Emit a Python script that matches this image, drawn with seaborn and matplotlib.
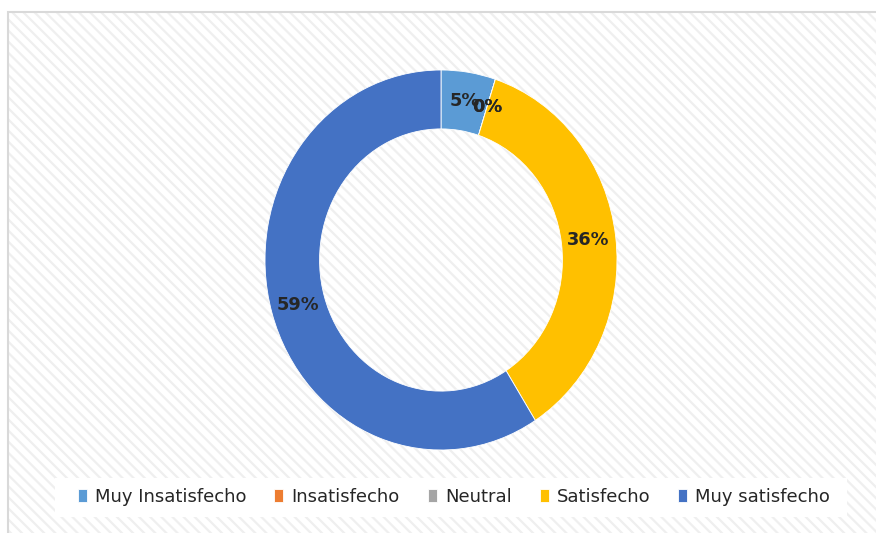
import matplotlib
matplotlib.use("Agg")
import matplotlib.pyplot as plt
import seaborn as sns
from matplotlib.patches import Rectangle

# data
categories = ["Muy Insatisfecho", "Insatisfecho", "Neutral", "Satisfecho", "Muy satisfecho"]
values = [5, 0, 0, 36, 59]
colors = ["#5B9BD5", "#ED7D31", "#A5A5A5", "#FFC000", "#4472C4"]

sns.set_style("white")
plt.rcParams["font.family"] = ["DejaVu Sans"]
plt.rcParams["hatch.linewidth"] = 1.6

fig = plt.figure(figsize=(8.76, 5.33), dpi=100)

# chart area frame with light diagonal stripes
W, H = 876, 533
fig.patches.append(Rectangle((8 / W, -0.1), 1.0, 1 - 12 / H + 0.1, transform=fig.transFigure,
                             facecolor="white", edgecolor="#EFEFEF", hatch="\\\\\\", linewidth=0,
                             zorder=-2))
fig.patches.append(Rectangle((8 / W, -0.1), 1.0, 1 - 12 / H + 0.1, transform=fig.transFigure,
                             facecolor="none", edgecolor="#D9D9D9", linewidth=1.5, zorder=-1))

# donut axes (stretched slightly taller than wide, as in the original)
ax = fig.add_axes([265 / W, 1 - 450 / H, 352 / W, 380 / H])
ax.patch.set_alpha(0)
wedges, texts, autotexts = ax.pie(
    values, colors=colors, startangle=90, counterclock=False,
    autopct="%1.0f%%", pctdistance=0.845,
    wedgeprops=dict(width=0.31, edgecolor="white", linewidth=0.6),
    textprops=dict(fontsize=12.8, color="#262626", fontweight="bold"),
)
ax.set_aspect("auto")
ax.set_xlim(-1, 1)
ax.set_ylim(-1, 1)
ax.axis("off")

# white box behind the legend
fig.patches.append(Rectangle((55 / W, 1 - 517 / H), 792 / W, 39 / H, transform=fig.transFigure,
                             facecolor="white", edgecolor="none", zorder=-0.5))

leg = fig.legend(wedges, categories, loc="center", bbox_to_anchor=(454 / W, 1 - 497 / H),
                 ncol=5, frameon=False, fontsize=13,
                 handlelength=0.5, handleheight=0.75, handletextpad=0.45,
                 columnspacing=1.55, borderpad=0.55, borderaxespad=0)
for t in leg.get_texts():
    t.set_color("#262626")

fig.savefig("out.png", dpi=100)
